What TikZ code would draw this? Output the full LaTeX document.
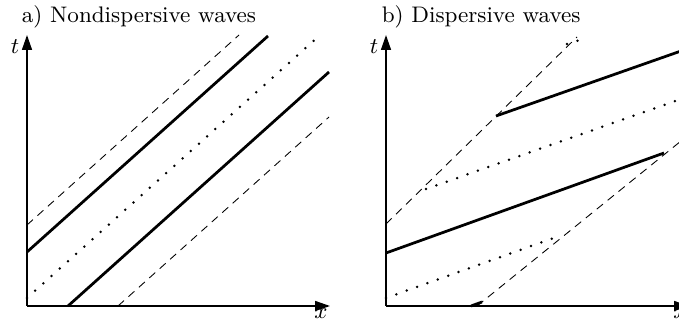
\documentclass[tikz,border=0pt]{standalone}
\usepackage{tikz}
\usetikzlibrary{arrows.meta}

\begin{document}
\begin{tikzpicture}[
    x=0.4pt, y=0.4pt,
    axisline/.style={line width=0.6pt, -{Triangle[length=6pt, width=4pt]}},
    crest/.style={line width=1.1pt},
    crestdot/.style={line width=1.1pt, line cap=round, dash pattern=on 0pt off 4.4pt},
    envelope/.style={line width=0.35pt, dash pattern=on 3.2pt off 2.4pt},
    title/.style={anchor=base west, font=\small},
    axlabel/.style={font=\small},
  ]
    \useasboundingbox (-27,-20) rectangle (652,306);

    % a) nondispersive
    \node[title] (titlea) at (-14,283.5) {a) Nondispersive waves};
    \draw[axisline] (0,0) -- (0,271);
    \draw[axisline] (0,0) -- (303,0);
    \node[axlabel] (ta) at (-12,259) {$t$};
    \node[axlabel] (xa) at (294,-8) {$x$};

    \draw[envelope] (0,81) -- (212,271);
    \draw[crest] (0,54) -- (241,270);
    \draw[crestdot] (0,8) -- (292,270);
    \draw[crest] (41,0) -- (302,234);
    \draw[envelope] (91,0) -- (302,189);

    % b) dispersive
    \begin{scope}[shift={(359,0)}]
      \node[title] (titleb) at (-13,283.5) {b) Dispersive waves};
      \draw[axisline] (0,0) -- (0,271);
      \draw[axisline] (0,0) -- (303,0);
      \node[axlabel] (tb) at (-12,259) {$t$};
      \node[axlabel] (xb) at (294,-8) {$x$};

      \draw[envelope] (0,82) -- (191,269);
      \draw[envelope] (91,0) -- (295,165);
      \draw[crest] (110,190) -- (295,255);
      \draw[crest] (0,53) -- (278,153);
      \draw[crest] (85,0) -- (96,4);
      \draw[crestdot] (40,117) -- (295,207);
      \draw[crestdot] (0,8) -- (176,71);
      \draw[crestdot] (181,262) -- (194,266);
    \end{scope}
\end{tikzpicture}
\end{document}
